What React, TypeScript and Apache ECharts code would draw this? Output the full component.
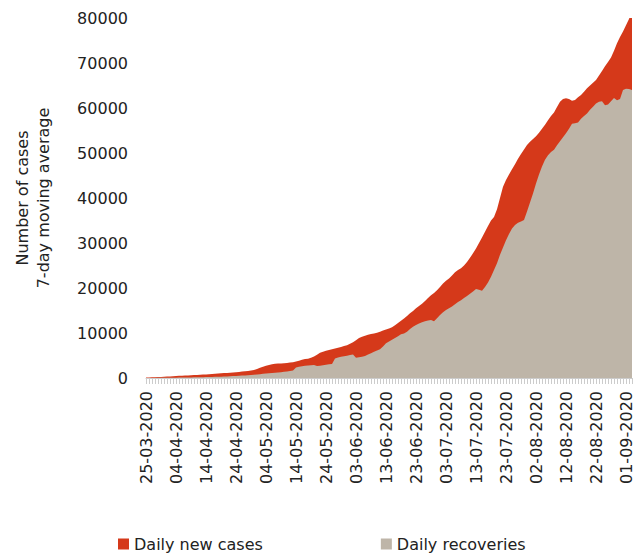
import React, { useEffect, useRef } from "react";
import * as echarts from "echarts";

const startDate = { year: 2020, month: 3, day: 25 };
const dayCount = 163;

const newCases: number[] = [
  100, 120, 150, 170, 200, 250, 280, 320, 360, 400,
  450, 480, 510, 540, 570, 600, 640, 680, 720, 760,
  800, 840, 880, 930, 990, 1050, 1090, 1130, 1180, 1240,
  1300, 1360, 1420, 1480, 1560, 1650, 1800, 2000, 2300, 2500,
  2700, 2900, 3050, 3150, 3220, 3250, 3300, 3350, 3420, 3500,
  3650, 3850, 4050, 4200, 4300, 4500, 4800, 5150, 5600, 5850,
  6050, 6250, 6400, 6550, 6700, 6900, 7100, 7300, 7600, 7950,
  8400, 8900, 9150, 9400, 9600, 9800, 9900, 10050, 10300, 10550,
  10800, 11000, 11300, 11700, 12200, 12700, 13200, 13800, 14400, 14900,
  15500, 16000, 16500, 17100, 17800, 18400, 18900, 19500, 20200, 21000,
  21600, 22100, 22800, 23500, 24000, 24400, 25000, 25800, 26700, 27700,
  28800, 30000, 31200, 32500, 33800, 35000, 35800, 37500, 40000, 42500,
  44000, 45200, 46400, 47500, 48700, 49800, 50800, 51800, 52500, 53100,
  53700, 54500, 55400, 56300, 57300, 58200, 59000, 60200, 61400, 62000,
  62150, 62000, 61600, 61800, 62400, 62900, 63600, 64400, 65000, 65600,
  66200, 67200, 68200, 69300, 70200, 71200, 72700, 74400, 75800, 77000,
  78400, 79800, 81400,
];

const recoveries: number[] = [
  10, 15, 20, 25, 30, 40, 45, 55, 65, 70,
  80, 90, 100, 110, 120, 135, 150, 165, 180, 190,
  200, 220, 240, 260, 280, 300, 330, 360, 390, 420,
  450, 490, 530, 570, 620, 660, 700, 780, 850, 920,
  980, 1050, 1120, 1180, 1240, 1300, 1380, 1450, 1550, 1650,
  2350, 2500, 2600, 2700, 2780, 2850, 2900, 2650, 2750, 2850,
  2950, 3050, 3100, 4350, 4550, 4700, 4850, 4950, 5100, 5200,
  4500, 4600, 4750, 4900, 5200, 5500, 5850, 6100, 6400, 7000,
  7700, 8100, 8500, 8900, 9300, 9700, 9900, 10300, 10900, 11400,
  11800, 12100, 12400, 12600, 12800, 12900, 12600, 13300, 14000, 14600,
  15100, 15500, 15900, 16400, 16900, 17300, 17800, 18200, 18700, 19200,
  19800, 19600, 19400, 20200, 21200, 22500, 24000, 25500, 27400, 29000,
  30600, 32000, 33200, 34000, 34500, 34800, 35100, 37000, 39000, 41000,
  43200, 45200, 47000, 48500, 49500, 50200, 50700, 51700, 52600, 53500,
  54400, 55400, 56500, 56600, 56800, 57600, 58200, 58800, 59600, 60300,
  61000, 61400, 61500, 60600, 60800, 61500, 62200, 61700, 62000, 64000,
  64300, 64200, 64000,
];

const seriesNames = ["Daily new cases", "Daily recoveries"];
const yTicks = { min: 0, max: 80000, interval: 10000 };

function pad(n: number) {
  return n < 10 ? "0" + n : String(n);
}

function buildDates(): string[] {
  const out: string[] = [];
  const d = new Date(Date.UTC(startDate.year, startDate.month - 1, startDate.day));
  for (let i = 0; i < dayCount; i++) {
    out.push(`${pad(d.getUTCDate())}-${pad(d.getUTCMonth() + 1)}-${d.getUTCFullYear()}`);
    d.setUTCDate(d.getUTCDate() + 1);
  }
  return out;
}

const dates = buildDates();

const FONT = "DejaVu Sans";
const RED = "#d5391a";
const BEIGE = "#beb5a8";

export default function App() {
  const ref = useRef<HTMLDivElement>(null);
  useEffect(() => {
    if (!ref.current) return;
    const chart = echarts.init(ref.current, undefined, { renderer: "svg" });
    chart.setOption({
      animation: false,
      textStyle: { fontFamily: FONT },
      grid: {
        left: 138,
        right: 4,
        top: 10,
        bottom: 175,
        containLabel: false,
        outerBoundsMode: "none",
      },
      legend: {
        data: seriesNames,
        left: 110,
        top: 528,
        icon: "rect",
        itemWidth: 11,
        itemHeight: 11,
        itemGap: 118,
        padding: 0,
        textStyle: { fontFamily: FONT, fontSize: 16, color: "#222" },
      },
      xAxis: {
        type: "category",
        data: dates,
        boundaryGap: false,
        axisLine: { show: true, lineStyle: { color: "#cccccc" } },
        axisTick: { show: true, interval: 0, length: 6, lineStyle: { color: "#cccccc" } },
        axisLabel: {
          interval: 9,
          rotate: 90,
          margin: 13,
          fontFamily: FONT,
          fontSize: 16,
          color: "#222",
        },
        splitLine: { show: false },
      },
      yAxis: {
        type: "value",
        min: yTicks.min,
        max: yTicks.max,
        interval: yTicks.interval,
        name: "Number of cases\n7-day moving average",
        nameLocation: "middle",
        nameRotate: 90,
        nameGap: 92,
        nameTextStyle: { fontFamily: FONT, fontSize: 16, color: "#222", lineHeight: 21 },
        axisLine: { show: false },
        axisTick: { show: false },
        splitLine: { show: false },
        axisLabel: {
          margin: 18,
          fontFamily: FONT,
          fontSize: 16,
          color: "#222",
          formatter: (v: number) => String(v),
        },
      },
      series: [
        {
          name: seriesNames[0],
          type: "line",
          data: newCases,
          showSymbol: false,
          symbol: "none",
          lineStyle: { width: 0 },
          itemStyle: { color: RED },
          areaStyle: { color: RED, opacity: 1 },
        },
        {
          name: seriesNames[1],
          type: "line",
          data: recoveries,
          showSymbol: false,
          symbol: "none",
          lineStyle: { width: 0 },
          itemStyle: { color: BEIGE },
          areaStyle: { color: BEIGE, opacity: 1 },
        },
      ],
    });
    return () => chart.dispose();
  }, []);
  return <div ref={ref} style={{ width: 628, height: 545 }} />;
}
